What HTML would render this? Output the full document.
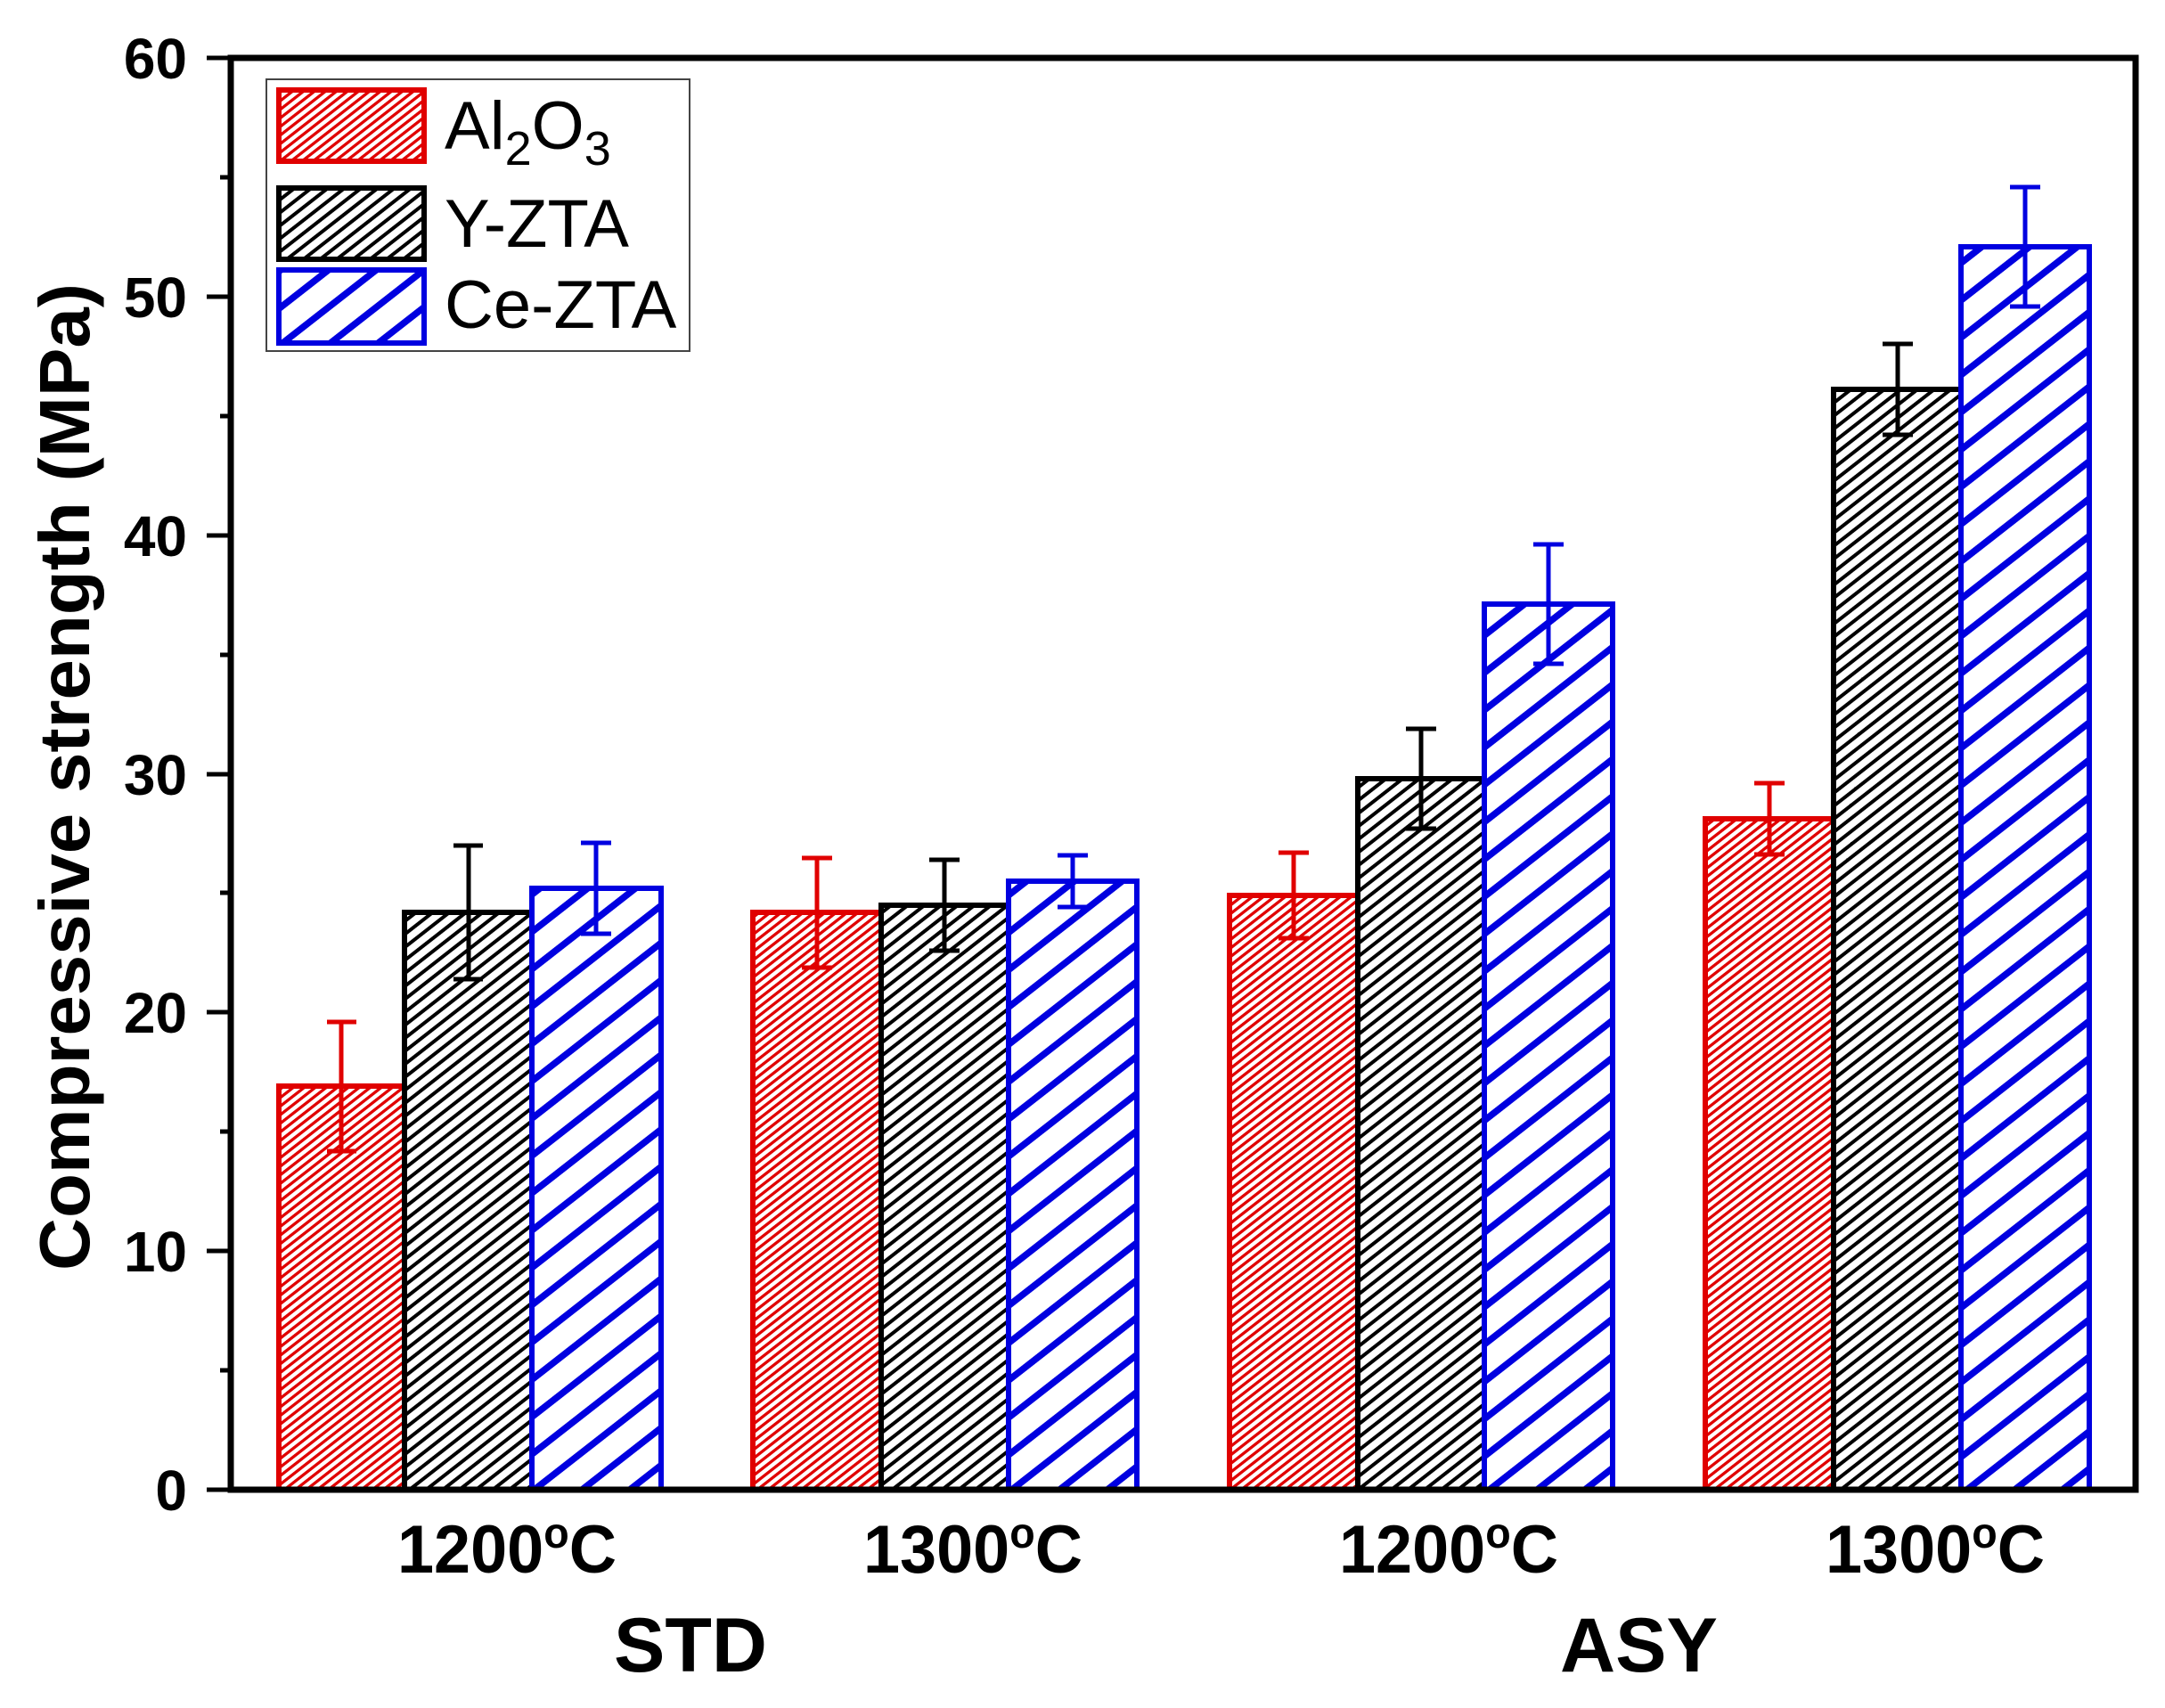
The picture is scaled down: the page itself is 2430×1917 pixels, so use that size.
<!DOCTYPE html>
<html><head><meta charset="utf-8"><style>html,body{margin:0;padding:0;background:#fff}svg{display:block}</style></head>
<body>
<svg width="2430" height="1917" viewBox="0 0 2430 1917" xmlns="http://www.w3.org/2000/svg" font-family="Liberation Sans, Arial, sans-serif">
<defs>
<pattern id="pr" patternUnits="userSpaceOnUse" width="7.6" height="12" patternTransform="rotate(52)">
<rect width="7.6" height="12" fill="#fff"/><rect x="0" y="0" width="3.3" height="12" fill="#e00000"/></pattern>
<pattern id="pk" patternUnits="userSpaceOnUse" width="11.5" height="18" patternTransform="rotate(52)">
<rect width="11.5" height="18" fill="#fff"/><rect x="0" y="0" width="4" height="18" fill="#000"/></pattern>
<pattern id="pb" patternUnits="userSpaceOnUse" width="33" height="42" patternTransform="rotate(52)">
<rect width="33" height="42" fill="#fff"/><rect x="0" y="0" width="7.5" height="42" fill="#0000e0"/></pattern>
</defs>
<rect width="2430" height="1917" fill="#fff"/>
<g id="bars" stroke-width="6">
<rect x="313" y="1219" width="141" height="453" fill="url(#pr)" stroke="#e00000"/>
<rect x="454" y="1024" width="143" height="648" fill="url(#pk)" stroke="#000"/>
<rect x="597" y="997" width="145" height="675" fill="url(#pb)" stroke="#0000e0"/>
<rect x="845" y="1024" width="144" height="648" fill="url(#pr)" stroke="#e00000"/>
<rect x="989" y="1016" width="143" height="656" fill="url(#pk)" stroke="#000"/>
<rect x="1132" y="989" width="144" height="683" fill="url(#pb)" stroke="#0000e0"/>
<rect x="1380" y="1005" width="144" height="667" fill="url(#pr)" stroke="#e00000"/>
<rect x="1524" y="874" width="142" height="798" fill="url(#pk)" stroke="#000"/>
<rect x="1666" y="678" width="144" height="994" fill="url(#pb)" stroke="#0000e0"/>
<rect x="1914" y="919" width="144" height="753" fill="url(#pr)" stroke="#e00000"/>
<rect x="2058" y="437" width="143" height="1235" fill="url(#pk)" stroke="#000"/>
<rect x="2201" y="277" width="144" height="1395" fill="url(#pb)" stroke="#0000e0"/>
</g>
<g id="err" stroke-width="5" fill="none">
<path stroke="#e00000" d="M383 1147V1292M367 1147H400M367 1292H400"/>
<path stroke="#000" d="M526 949V1099M509 949H542M509 1099H542"/>
<path stroke="#0000e0" d="M669 946V1048M652 946H686M652 1048H686"/>
<path stroke="#e00000" d="M917 963V1086M900 963H934M900 1086H934"/>
<path stroke="#000" d="M1060 965V1067M1043 965H1077M1043 1067H1077"/>
<path stroke="#0000e0" d="M1204 960V1018M1187 960H1221M1187 1018H1221"/>
<path stroke="#e00000" d="M1452 957V1053M1435 957H1469M1435 1053H1469"/>
<path stroke="#000" d="M1595 818V930M1578 818H1612M1578 930H1612"/>
<path stroke="#0000e0" d="M1738 611V745M1721 611H1755M1721 745H1755"/>
<path stroke="#e00000" d="M1986 879V959M1969 879H2003M1969 959H2003"/>
<path stroke="#000" d="M2130 386V488M2113 386H2147M2113 488H2147"/>
<path stroke="#0000e0" d="M2273 210V344M2256 210H2290M2256 344H2290"/>
</g>
<path d="M259 65H2397V1672H259Z" fill="none" stroke="#000" stroke-width="7"/>
<g stroke="#000" stroke-width="5">
<path d="M232 1672H259M232 1404H259M232 1136H259M232 869H259M232 601H259M232 333H259M232 65H259"/>
<path d="M247 1538H259M247 1270H259M247 1002H259M247 735H259M247 467H259M247 199H259"/>
</g>
<g font-size="64" font-weight="bold" text-anchor="end" fill="#000">
<text x="210" y="1695">0</text>
<text x="210" y="1427">10</text>
<text x="210" y="1159">20</text>
<text x="210" y="892">30</text>
<text x="210" y="624">40</text>
<text x="210" y="356">50</text>
<text x="210" y="88">60</text>
</g>
<text transform="translate(100,872) rotate(-90)" text-anchor="middle" font-size="80" font-weight="bold" textLength="1108" lengthAdjust="spacingAndGlyphs">Compressive strength (MPa)</text>
<g font-size="76" font-weight="bold">
<text x="446" y="1765" textLength="246" lengthAdjust="spacingAndGlyphs">1200<tspan dy="-28" font-size="48">o</tspan><tspan dy="28">C</tspan></text>
<text x="969" y="1765" textLength="246" lengthAdjust="spacingAndGlyphs">1300<tspan dy="-28" font-size="48">o</tspan><tspan dy="28">C</tspan></text>
<text x="1503" y="1765" textLength="246" lengthAdjust="spacingAndGlyphs">1200<tspan dy="-28" font-size="48">o</tspan><tspan dy="28">C</tspan></text>
<text x="2049" y="1765" textLength="246" lengthAdjust="spacingAndGlyphs">1300<tspan dy="-28" font-size="48">o</tspan><tspan dy="28">C</tspan></text>
</g>
<g font-size="86" font-weight="bold">
<text x="689" y="1876">STD</text>
<text x="1751" y="1876">ASY</text>
</g>
<rect x="299" y="89" width="475" height="305" fill="#fff" stroke="#444" stroke-width="2"/>
<rect x="313" y="101" width="163" height="80" fill="url(#pr)" stroke="#e00000" stroke-width="6"/>
<rect x="313" y="211" width="163" height="80" fill="url(#pk)" stroke="#000" stroke-width="6"/>
<rect x="313" y="303" width="163" height="82" fill="url(#pb)" stroke="#0000e0" stroke-width="6"/>
<g font-size="76">
<text x="499" y="167">Al<tspan font-size="54" dy="18">2</tspan><tspan dy="-18">O</tspan><tspan font-size="54" dy="18">3</tspan></text>
<text x="499" y="277">Y-ZTA</text>
<text x="499" y="368">Ce-ZTA</text>
</g>
</svg>
</body></html>
